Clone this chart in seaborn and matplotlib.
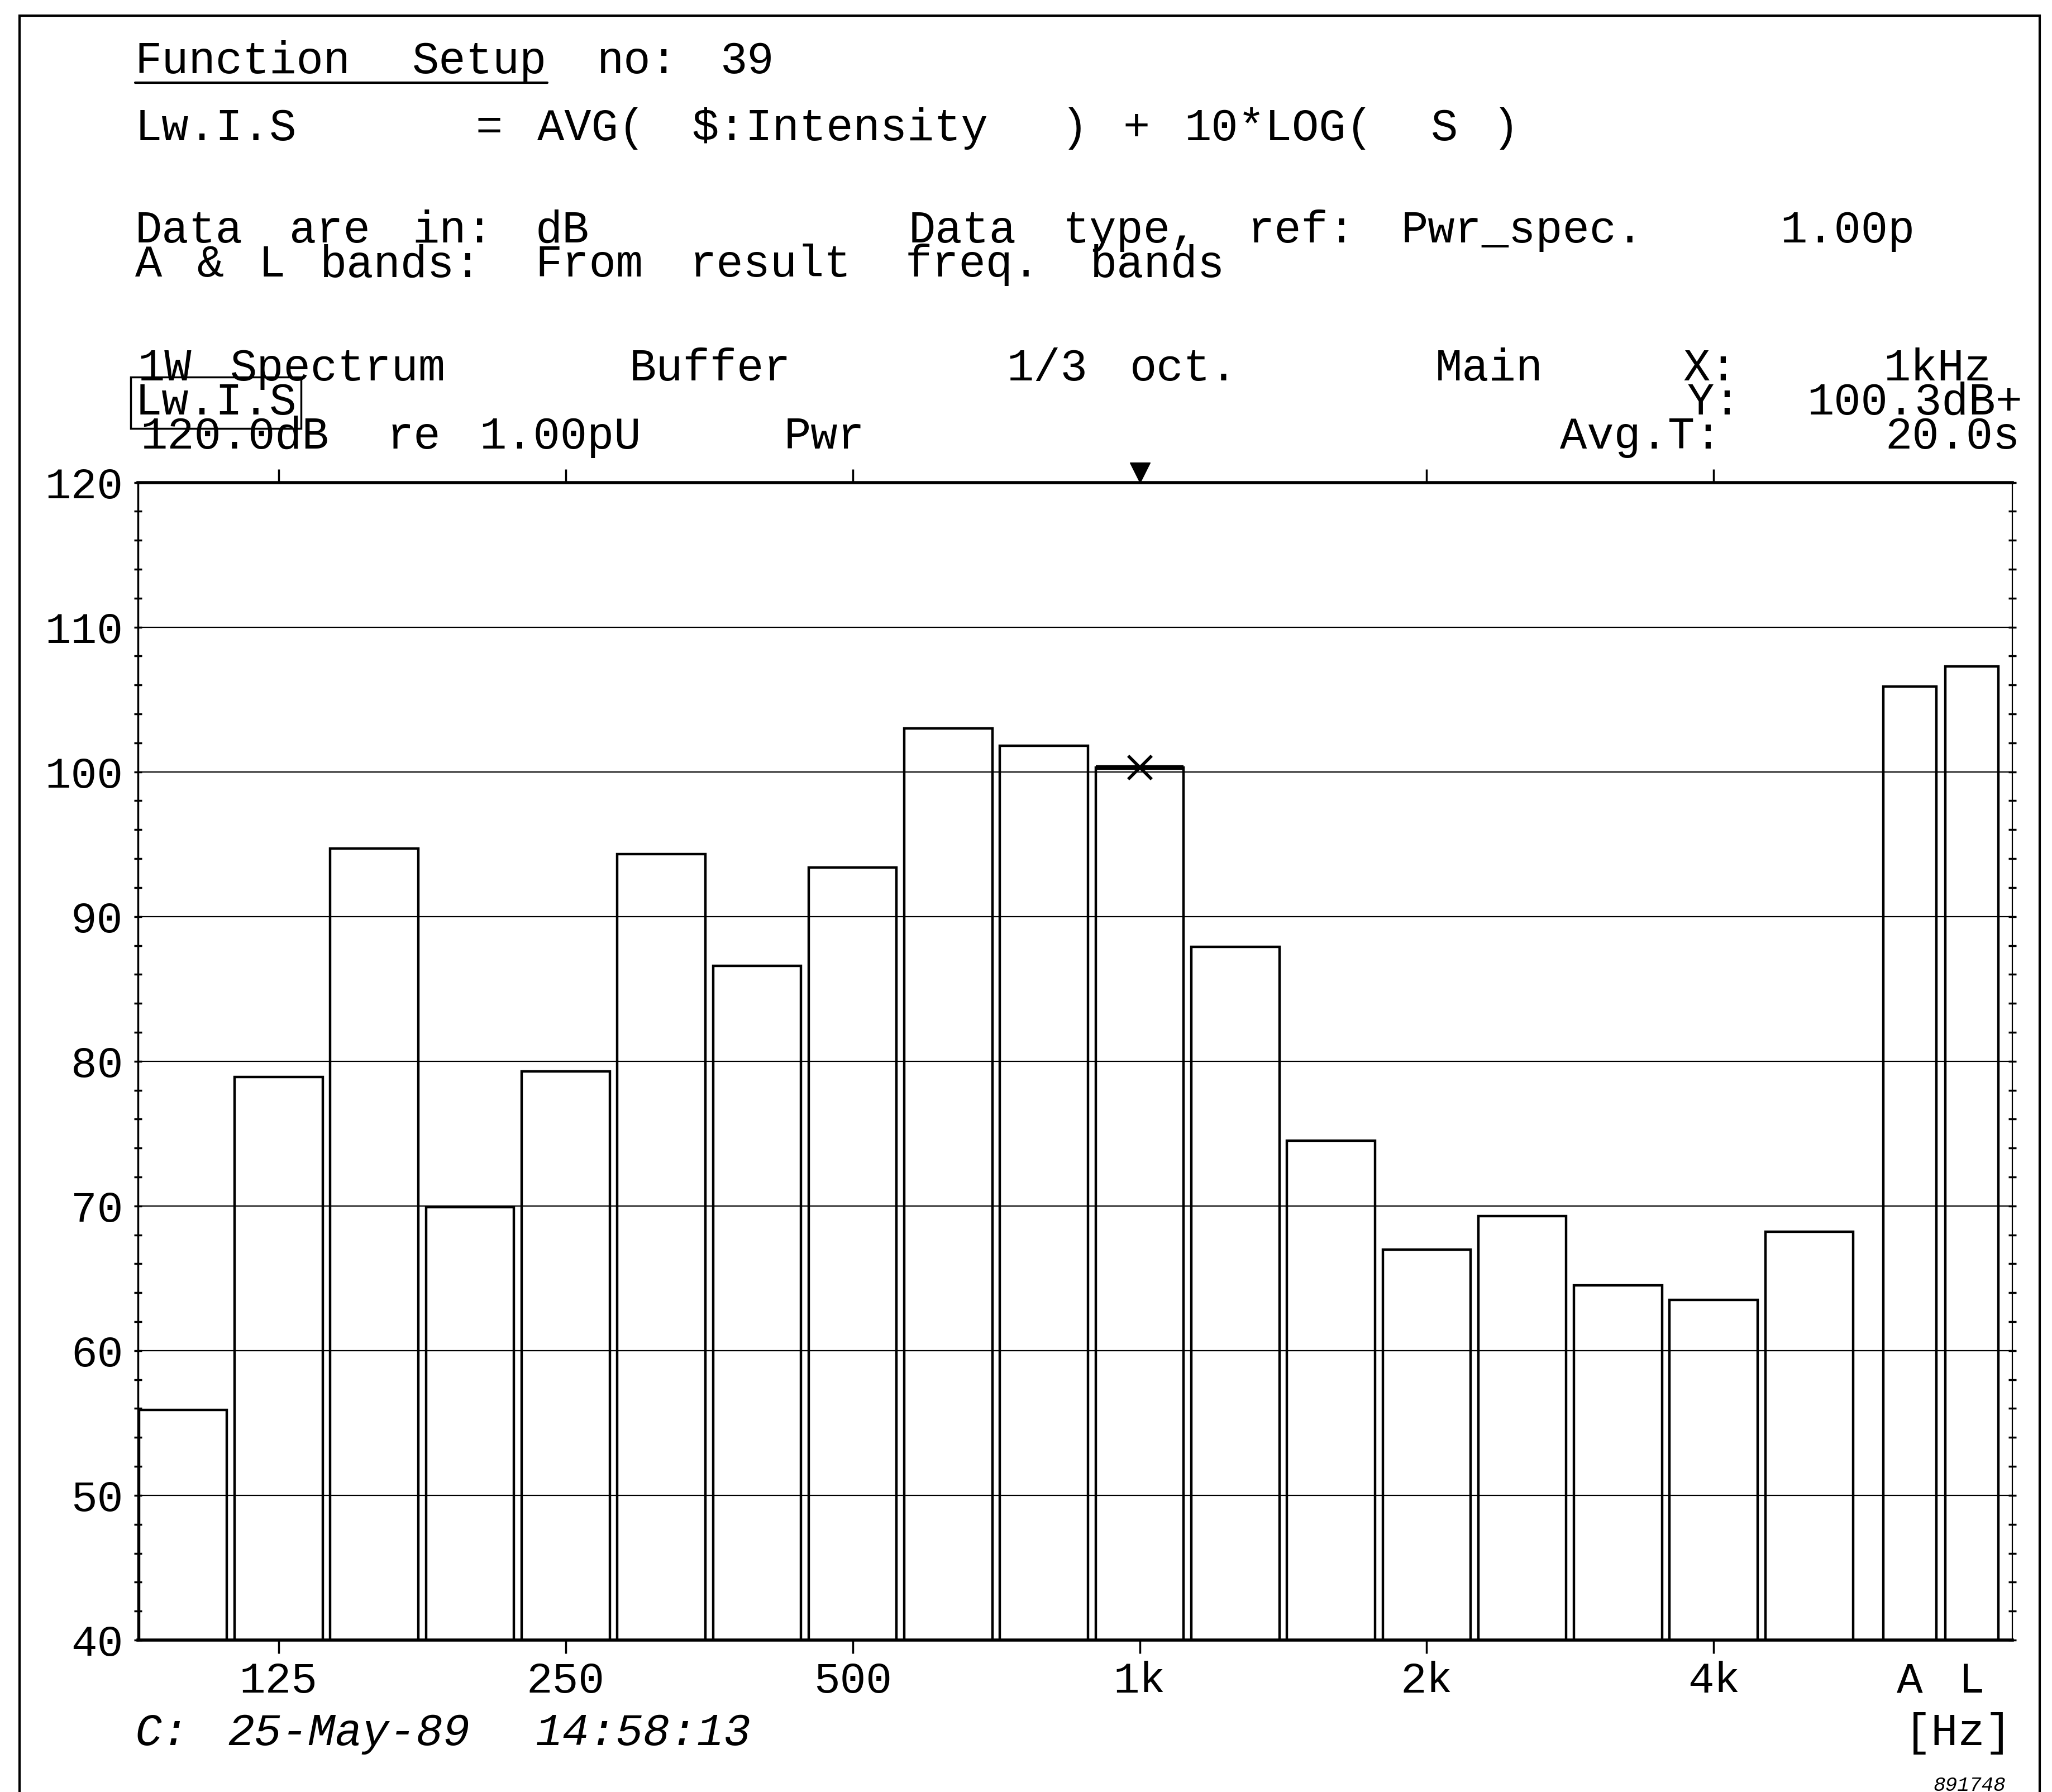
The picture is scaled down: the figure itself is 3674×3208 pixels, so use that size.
import matplotlib
matplotlib.use("Agg")
import matplotlib.pyplot as plt
import seaborn as sns
import numpy as np
from matplotlib.patches import Rectangle
from matplotlib.lines import Line2D

# 1/3 octave bands, Lw.I.S in dB
bands = ["100", "125", "160", "200", "250", "315", "400", "500", "630", "800",
         "1k", "1.25k", "1.6k", "2k", "2.5k", "3.15k", "4k", "5k"]
levels = [55.9, 78.9, 94.7, 69.9, 79.3, 94.3, 86.6, 93.4, 103.0, 101.8,
          100.3, 87.9, 74.5, 67.0, 69.3, 64.5, 63.5, 68.2]

# overall A-weighted and linear bands
totals = ["A", "L"]
total_levels = [105.9, 107.3]

tick_bands = ["125", "250", "500", "1k", "2k", "4k"]
cursor = "1k"

sns.set_theme(style="white")
plt.rcParams["font.family"] = ["Liberation Mono", "DejaVu Sans Mono"]
plt.rcParams["text.color"] = "black"
plt.rcParams["xtick.color"] = "black"
plt.rcParams["ytick.color"] = "black"

fig = plt.figure(figsize=(36.74, 32.08), dpi=100)
ax = fig.add_axes([0.0671, 0.0848, 0.9135, 0.6460])

band_x = np.arange(len(bands))
sns.barplot(x=band_x, y=levels, native_scale=True, width=0.92, fill=False,
            color="black", linewidth=3.2, errorbar=None, ax=ax)
total_x = len(bands) + np.array([0.05, 0.70])
sns.barplot(x=total_x, y=total_levels, native_scale=True, width=0.85, fill=False,
            color="black", linewidth=3.2, errorbar=None, ax=ax)

# cursor at 1k
ci = bands.index(cursor)
ax.hlines(levels[ci], ci - 0.46, ci + 0.46, color="black", lw=6, zorder=4)
ax.plot(ci, levels[ci], marker="x", ms=30, mew=4, color="black", zorder=5)
ax.plot(ci, 1.0087, marker="v", ms=26, color="black",
        transform=ax.get_xaxis_transform(), clip_on=False)

tick_pos = [bands.index(b) for b in tick_bands] + list(total_x)
ax.set_xticks(tick_pos, tick_bands + totals)
ax.set_xlim(-0.473, 19.12)
ax.set_ylim(40, 120)
ax.set_yticks(np.arange(40, 121, 10))
ax.set_yticks(np.arange(40, 121, 2), minor=True)
ax.set_xlabel("")
ax.set_ylabel("")

ax.yaxis.grid(True, which="major", color="black", linewidth=1.6)
ax.xaxis.grid(False)
ax.tick_params(axis="x", which="major", direction="out", length=17, width=2.5,
               top=True, bottom=True, labelsize=56, pad=10)
ax.tick_params(axis="y", which="both", direction="inout", length=10, width=2.5,
               left=True, right=True, labelsize=56, pad=14)
for t in ax.xaxis.get_major_ticks()[-2:]:
    t.tick1line.set_visible(False)
    t.tick2line.set_visible(False)

for side, w in [("top", 4), ("bottom", 4), ("left", 2.5), ("right", 1.6)]:
    ax.spines[side].set_visible(True)
    ax.spines[side].set_color("black")
    ax.spines[side].set_linewidth(w)


def fx(x):
    return x / 1565.4


def fy(y):
    return 1 - y / 1366.9


# the plotter writes on a fixed character grid; put each word on its column
PITCH = 23.5
FS = 58
ADV = 0.6 * FS * 100 / 72 / 2.347   # mono advance in reference px


def grid_text(x, y, s, **kw):
    col = 0
    for word in s.split(" "):
        if word:
            fig.text(fx(x + col * PITCH), fy(y), word, fontsize=FS,
                     va="baseline", **kw)
        col += len(word) + 1


def right_text(x, y, s, **kw):
    fig.text(fx(x), fy(y), s, fontsize=FS, va="baseline", ha="right", **kw)


grid_text(103, 56, "Function Setup no: 39")
fig.add_artist(Line2D([fx(103), fx(103 + 9 * PITCH + 5 * ADV)], [fy(63), fy(63)],
                      transform=fig.transFigure, color="black", lw=3))
grid_text(103, 107, "Lw.I.S")
grid_text(363, 107, "= AVG( $:Intensity ) + 10*LOG( S )")

grid_text(103, 185, "Data are in: dB")
grid_text(693, 185, "Data type, ref: Pwr_spec.")
grid_text(1358, 185, "1.00p")
grid_text(103, 211, "A & L bands: From result freq. bands")

grid_text(105, 290, "1W Spectrum")
grid_text(480, 290, "Buffer")
grid_text(768, 290, "1/3 oct.")
grid_text(1095, 290, "Main")
grid_text(1284, 290, "X:")
right_text(1519, 290, "1kHz")

grid_text(103, 316, "Lw.I.S",
          bbox=dict(boxstyle="square,pad=0.1", fc="none", ec="black", lw=2.5))
grid_text(1287, 316, "Y:")
right_text(1543, 316, "100.3dB+")

grid_text(107, 342, "120.0dB re 1.00pU")
grid_text(598, 342, "Pwr")
grid_text(1190, 342, "Avg.T:")
right_text(1541, 342, "20.0s")

grid_text(103, 1331, "C: 25-May-89 14:58:13", style="italic")
right_text(1535, 1331, "[Hz]")
fig.text(fx(1530), fy(1366), "891748", ha="right", style="italic",
         fontsize=26, va="baseline")

# plotter page frame
fig.add_artist(Rectangle((0.0096, -0.02), 0.9844, 1.0113, transform=fig.transFigure,
                         fill=False, ec="black", lw=3))

fig.savefig("out.png", dpi=100)
